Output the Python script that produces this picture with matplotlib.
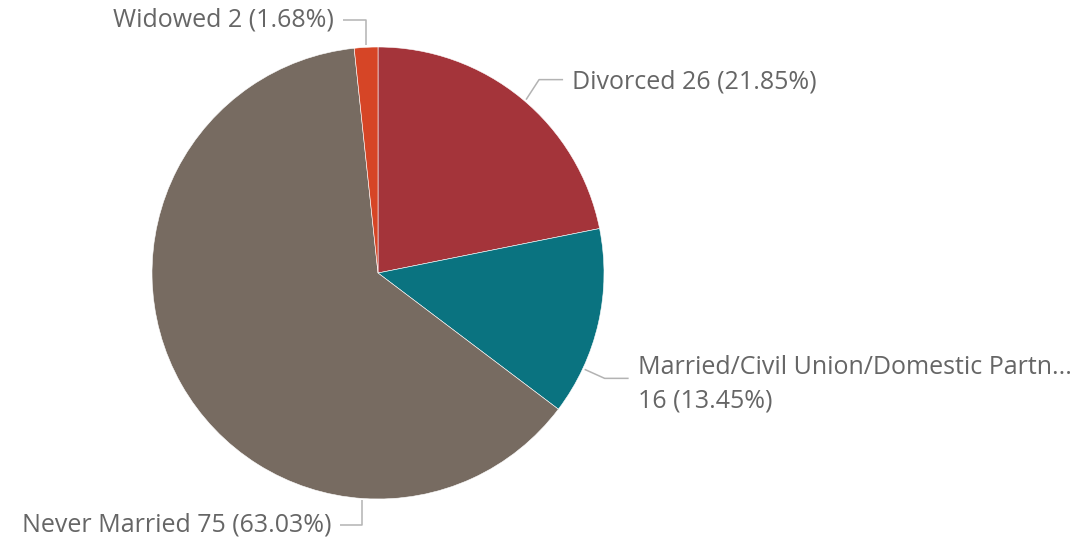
import numpy as np
import matplotlib.pyplot as plt

labels = ["Divorced", "Married/Civil Union/Domestic Partn...", "Never Married", "Widowed"]
counts = [26, 16, 75, 2]
percents = [21.85, 13.45, 63.03, 1.68]
colors = ["#A4343A", "#0A7380", "#776B61", "#D64526"]

W, H = 1082, 544
fig = plt.figure(figsize=(W / 100, H / 100), dpi=100)
ax = fig.add_axes([0, 0, 1, 1])

cx, cy, r = 378, H - 273, 226
wedges, _ = ax.pie(counts, colors=colors, startangle=90, counterclock=False,
                   center=(cx, cy), radius=r, frame=True,
                   wedgeprops=dict(edgecolor="white", linewidth=0.4))
ax.set_xlim(0, W)
ax.set_ylim(0, H)
ax.set_aspect("equal")
ax.axis("off")

# leader anchor angle, elbow offset, horizontal run (px)
leaders = [
    (49.5, (13, 20), 24),
    (-25.0, (20, -9), 24),
    (-94.0, (0, -25), -22),
    (93.0, (0, 25), -23),
]
txt = dict(fontsize=18, color="#666666", family=["Segoe UI", "Open Sans", "DejaVu Sans"])
line_c = "#b3b3b3"
for lab, n, p, (ang, (ex, ey), run) in zip(labels, counts, percents, leaders):
    a = np.radians(ang)
    x0, y0 = cx + (r + 2) * np.cos(a), cy + (r + 2) * np.sin(a)
    x1, y1 = x0 + ex, y0 + ey
    x2 = x1 + run
    ax.plot([x0, x1, x2], [y0, y1, y1], color=line_c, lw=1.1, solid_capstyle="butt")
    s = f"{lab} {n} ({p:.2f}%)"
    if lab.startswith("Married"):
        s = f"{lab}\n{n} ({p:.2f}%)"
    if run > 0:
        ax.text(x2 + 9, y1 + (-6 if "\n" in s else -2), s, ha="left", va="center",
                linespacing=1.42, **txt)
    else:
        ax.text(x2 - 9, y1, s, ha="right", va="center", **txt)

fig.savefig("out.png", dpi=100)
